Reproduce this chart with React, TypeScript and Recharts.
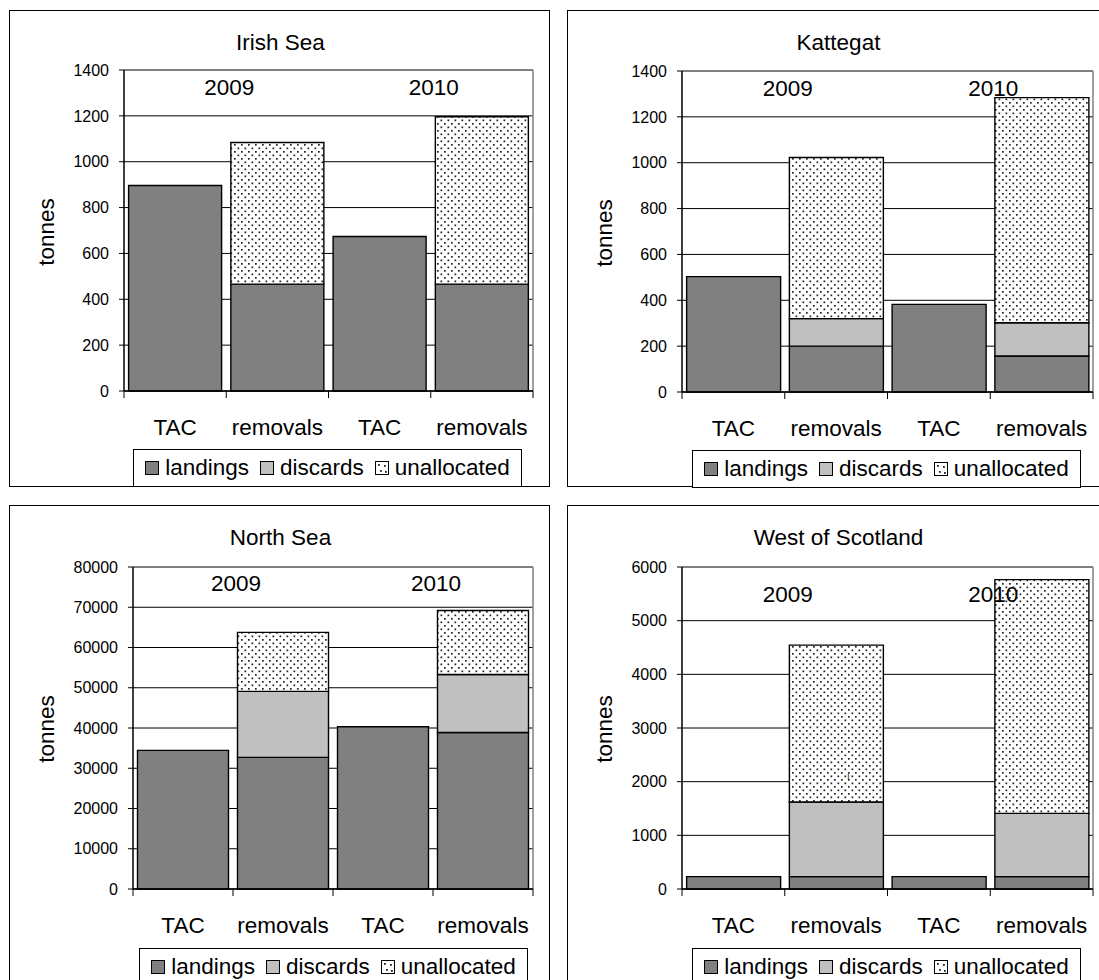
import React from 'react';
import { BarChart, Bar, XAxis, YAxis, CartesianGrid, Legend } from 'recharts';

const categories = ['TAC', 'removals', 'TAC', 'removals'];
const years = ['2009', '2010'];

const irishLandings = [896, 466, 674, 466];
const irishDiscards = [0, 0, 0, 0];
const irishUnallocated = [0, 618, 0, 730];

const kattegatLandings = [503, 200, 382, 157];
const kattegatDiscards = [0, 120, 0, 145];
const kattegatUnallocated = [0, 703, 0, 982];

const northLandings = [34450, 32700, 40300, 38900];
const northDiscards = [0, 16400, 0, 14400];
const northUnallocated = [0, 14650, 0, 15900];

const westLandings = [230, 230, 230, 230];
const westDiscards = [0, 1390, 0, 1180];
const westUnallocated = [0, 2925, 0, 4355];

const irishTicks = [0, 200, 400, 600, 800, 1000, 1200, 1400];
const kattegatTicks = [0, 200, 400, 600, 800, 1000, 1200, 1400];
const northTicks = [0, 10000, 20000, 30000, 40000, 50000, 60000, 70000, 80000];
const westTicks = [0, 1000, 2000, 3000, 4000, 5000, 6000];

const FONT = '"Liberation Sans", Arial, sans-serif';
const W = 541;
const H = 477;
const BIG = 22.5;

const buildRows = (landings: number[], discards: number[], unallocated: number[]) =>
  categories.map((name, i) => ({
    name,
    landings: landings[i],
    discards: discards[i],
    unallocated: unallocated[i],
  }));

const CategoryTick = (props: any) => {
  const { x, y, payload, index, band, count } = props;
  const left = x - band / 2;
  return (
    <g>
      <line x1={left} y1={y} x2={left} y2={y + 7} stroke="#000" strokeWidth={1} />
      {index === count - 1 && (
        <line x1={x + band / 2} y1={y} x2={x + band / 2} y2={y + 7} stroke="#000" strokeWidth={1} />
      )}
      <text
        x={x}
        y={y + 36}
        textAnchor="middle"
        dominantBaseline="central"
        fontSize={BIG}
        fontFamily={FONT}
        fill="#000"
      >
        {payload.value}
      </text>
    </g>
  );
};

const Swatch = ({ kind }: { kind: string }) => (
  <svg width={14} height={14} style={{ display: 'block' }}>
    {kind === 'unallocated' ? (
      <g>
        <rect x={0.5} y={0.5} width={13} height={13} fill="#fff" stroke="#000" />
        <rect x={3} y={3} width={1.8} height={1.8} fill="#222" />
        <rect x={9} y={4} width={1.8} height={1.8} fill="#222" />
        <rect x={5} y={9} width={1.8} height={1.8} fill="#222" />
        <rect x={10} y={10} width={1.8} height={1.8} fill="#222" />
      </g>
    ) : (
      <rect
        x={0.5}
        y={0.5}
        width={13}
        height={13}
        fill={kind === 'landings' ? '#808080' : '#C0C0C0'}
        stroke="#000"
      />
    )}
  </svg>
);

const legendItems = ['landings', 'discards', 'unallocated'];

const LegendBox = () => (
  <div
    style={{
      border: '1px solid #000',
      background: '#fff',
      height: 38,
      boxSizing: 'border-box',
      display: 'flex',
      alignItems: 'center',
      justifyContent: 'center',
      gap: 11,
      fontFamily: FONT,
      fontSize: BIG,
      color: '#000',
    }}
  >
    {legendItems.map((k) => (
      <div key={k} style={{ display: 'flex', alignItems: 'center', gap: 6 }}>
        <Swatch kind={k} />
        <span>{k}</span>
      </div>
    ))}
  </div>
);

interface PanelProps {
  id: string;
  title: string;
  left: number;
  top: number;
  rows: any[];
  ticks: number[];
  yWidth: number;
  margin: { top: number; right: number; bottom: number };
  legend: { left: number; top: number };
  yearDy: number;
  extra?: React.ReactNode;
}

const Panel = ({ id, title, left, top, rows, ticks, yWidth, margin, legend, yearDy, extra }: PanelProps) => {
  const xHeight = 60;
  const plotLeft = yWidth;
  const plotW = W - yWidth - margin.right;
  const plotH = H - margin.top - margin.bottom;
  const band = plotW / categories.length;
  const max = ticks[ticks.length - 1];
  return (
    <div
      style={{
        position: 'absolute',
        left,
        top,
        width: W,
        height: H,
        border: '1px solid #000',
        boxSizing: 'border-box',
        background: '#fff',
      }}
    >
      <div style={{ position: 'absolute', left: -1, top: -1 }}>
        <BarChart
          width={W}
          height={H}
          data={rows}
          margin={{ top: margin.top, right: margin.right, left: 0, bottom: margin.bottom - xHeight }}
          barCategoryGap="4.5%"
        >
          <defs>
            <pattern id={`dots-${id}`} width={7} height={7} patternUnits="userSpaceOnUse">
              <rect width={7} height={7} fill="#fff" />
              <rect x={1} y={1} width={1.7} height={1.7} fill="#222" />
              <rect x={4.5} y={4.5} width={1.7} height={1.7} fill="#222" />
            </pattern>
          </defs>
          <CartesianGrid vertical={false} stroke="#000" strokeWidth={1} />
          <CartesianGrid
            stroke="#808080"
            strokeWidth={1.5}
            horizontalCoordinatesGenerator={() => [margin.top]}
            verticalCoordinatesGenerator={() => [plotLeft + plotW]}
          />
          <XAxis
            dataKey="name"
            height={xHeight}
            interval={0}
            tickSize={0}
            tickMargin={0}
            tickLine={false}
            axisLine={{ stroke: '#000', strokeWidth: 1.5 }}
            tick={(p: any) => <CategoryTick {...p} band={band} count={categories.length} />}
          />
          <YAxis
            width={yWidth}
            domain={[0, max]}
            ticks={ticks}
            interval={0}
            tickSize={5}
            tickMargin={10}
            axisLine={{ stroke: '#000', strokeWidth: 1.5 }}
            tickLine={{ stroke: '#000' }}
            tick={{ fill: '#000', fontSize: 16, fontFamily: FONT }}
          />
          <Legend
            layout="horizontal"
            verticalAlign="middle"
            align="center"
            wrapperStyle={{ left: legend.left, top: legend.top, width: 389, height: 38 }}
            content={() => <LegendBox />}
          />
          <Bar dataKey="landings" stackId="a" fill="#808080" stroke="#000" strokeWidth={1.4} isAnimationActive={false} />
          <Bar dataKey="discards" stackId="a" fill="#C0C0C0" stroke="#000" strokeWidth={1.4} isAnimationActive={false} />
          <Bar dataKey="unallocated" stackId="a" fill={`url(#dots-${id})`} stroke="#000" strokeWidth={1.4} isAnimationActive={false} />
        </BarChart>
      </div>
      <div
        style={{
          position: 'absolute',
          left: 0,
          width: W,
          top: 32 - 14,
          height: 28,
          lineHeight: '28px',
          textAlign: 'center',
          fontFamily: FONT,
          fontSize: BIG,
          color: '#000',
        }}
      >
        {title}
      </div>
      <div
        style={{
          position: 'absolute',
          left: 37 - 14,
          top: margin.top + plotH / 2 - 14,
          width: 28,
          height: 28,
          display: 'flex',
          alignItems: 'center',
          justifyContent: 'center',
        }}
      >
        <div
          style={{
            transform: 'rotate(-90deg)',
            whiteSpace: 'nowrap',
            fontFamily: FONT,
            fontSize: BIG,
            color: '#000',
          }}
        >
          tonnes
        </div>
      </div>
      {years.map((yr, i) => (
        <div
          key={yr}
          style={{
            position: 'absolute',
            left: plotLeft + plotW * (0.255 + 0.5 * i) - 40,
            width: 80,
            top: margin.top + yearDy - 14,
            height: 28,
            lineHeight: '28px',
            textAlign: 'center',
            fontFamily: FONT,
            fontSize: BIG,
            color: '#000',
          }}
        >
          {yr}
        </div>
      ))}
      {extra}
    </div>
  );
}

export default function App() {
  return (
    <div
      style={{
        position: 'absolute',
        left: 0,
        top: 0,
        width: 1099,
        height: 980,
        overflow: 'hidden',
        background: '#fff',
      }}
    >
      <Panel
        id="irish"
        title="Irish Sea"
        left={9}
        top={10}
        rows={buildRows(irishLandings, irishDiscards, irishUnallocated)}
        ticks={irishTicks}
        yWidth={115}
        margin={{ top: 60, right: 17, bottom: 96 }}
        legend={{ left: 124, top: 439 }}
        yearDy={17}
      />
      <Panel
        id="kattegat"
        title="Kattegat"
        left={567}
        top={10}
        rows={buildRows(kattegatLandings, kattegatDiscards, kattegatUnallocated)}
        ticks={kattegatTicks}
        yWidth={115}
        margin={{ top: 61, right: 15, bottom: 95 }}
        legend={{ left: 125, top: 440 }}
        yearDy={17}
      />
      <Panel
        id="north"
        title="North Sea"
        left={9}
        top={505}
        rows={buildRows(northLandings, northDiscards, northUnallocated)}
        ticks={northTicks}
        yWidth={124}
        margin={{ top: 62, right: 17, bottom: 93 }}
        legend={{ left: 130, top: 443 }}
        yearDy={16}
      />
      <Panel
        id="west"
        title="West of Scotland"
        left={567}
        top={505}
        rows={buildRows(westLandings, westDiscards, westUnallocated)}
        ticks={westTicks}
        yWidth={115}
        margin={{ top: 62, right: 15, bottom: 93 }}
        legend={{ left: 125, top: 443 }}
        yearDy={27}
        extra={
          <div
            style={{
              position: 'absolute',
              left: 279,
              top: 265,
              fontSize: 10,
              fontFamily: FONT,
              color: '#333',
            }}
          >
            ı
          </div>
        }
      />
    </div>
  );
}
